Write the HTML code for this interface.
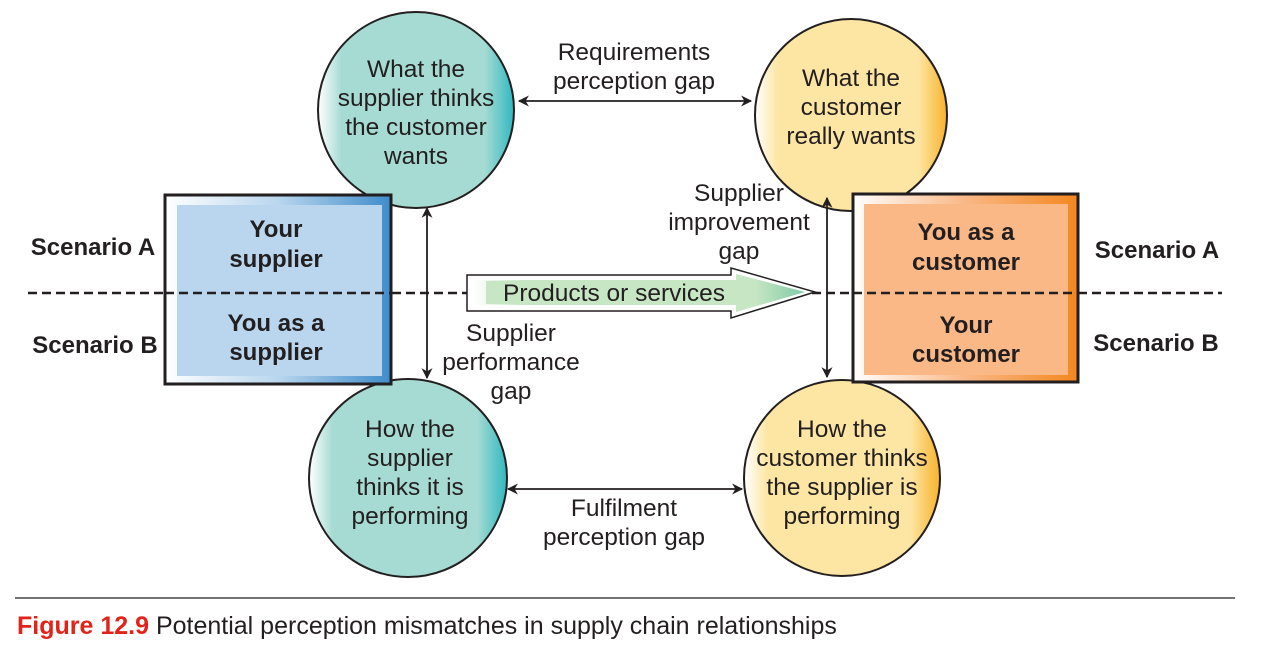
<!DOCTYPE html>
<html><head><meta charset="utf-8"><style>
html,body{margin:0;padding:0;background:#fff;}
svg{display:block;}
text{font-family:"Liberation Sans",sans-serif;fill:#231f20;}
</style></head><body>
<svg width="1273" height="656" viewBox="0 0 1273 656" xmlns="http://www.w3.org/2000/svg">
<defs>
<linearGradient id="teal" x1="0" x2="1" y1="0" y2="0">
<stop offset="0" stop-color="#ffffff"/><stop offset="0.12" stop-color="#a6dbd3"/><stop offset="0.85" stop-color="#a6dbd3"/><stop offset="1" stop-color="#2fb8c0"/></linearGradient>
<linearGradient id="yel" x1="0" x2="1" y1="0" y2="0">
<stop offset="0" stop-color="#ffffff"/><stop offset="0.12" stop-color="#fde6a3"/><stop offset="0.85" stop-color="#fde6a3"/><stop offset="1" stop-color="#f8b22a"/></linearGradient>
<linearGradient id="blue" x1="0" x2="1"><stop offset="0" stop-color="#fff"/><stop offset="0.5" stop-color="#b9d6ee"/><stop offset="1" stop-color="#3f8ccb"/></linearGradient>
<linearGradient id="orng" x1="0" x2="1"><stop offset="0" stop-color="#fff"/><stop offset="0.5" stop-color="#f9b886"/><stop offset="1" stop-color="#f4871f"/></linearGradient>
<linearGradient id="grn" x1="0" x2="1"><stop offset="0" stop-color="#fff"/><stop offset="0.15" stop-color="#c7e6c4"/><stop offset="0.85" stop-color="#c7e6c4"/><stop offset="1" stop-color="#7fcaa6"/></linearGradient>
<marker id="ah" viewBox="0 0 10 10" refX="9" refY="5" markerWidth="13" markerHeight="11" orient="auto-start-reverse" markerUnits="userSpaceOnUse"><path d="M0,0 L10,5 L0,10 L3,5 Z" fill="#231f20"/></marker>
</defs>

<line x1="28" y1="293" x2="1222" y2="293" stroke="#231f20" stroke-width="2.5" stroke-dasharray="9,5"/>

<circle cx="416" cy="110" r="98" fill="url(#teal)" stroke="#231f20" stroke-width="2"/>
<circle cx="851" cy="115" r="96" fill="url(#yel)" stroke="#231f20" stroke-width="2"/>
<circle cx="408" cy="478" r="99" fill="url(#teal)" stroke="#231f20" stroke-width="2"/>
<circle cx="842" cy="478" r="98" fill="url(#yel)" stroke="#231f20" stroke-width="2"/>

<rect x="165" y="195" width="226" height="189" fill="url(#blue)" stroke="#231f20" stroke-width="3"/>
<rect x="177" y="205" width="205" height="171" fill="#b9d6ee"/>
<line x1="165" y1="293" x2="391" y2="293" stroke="#231f20" stroke-width="2.5" stroke-dasharray="9,5"/>
<rect x="853" y="194" width="225" height="188" fill="url(#orng)" stroke="#231f20" stroke-width="3"/>
<rect x="864" y="204" width="204" height="171" fill="#f9b886"/>
<line x1="853" y1="293" x2="1078" y2="293" stroke="#231f20" stroke-width="2.5" stroke-dasharray="9,5"/>

<path d="M467,275 L731,275 L731,268 L815,292 L731,318 L731,311 L467,311 Z" fill="#fff" stroke="#231f20" stroke-width="1.5"/>
<path d="M474,280 L736,280 L736,274 L805,292 L736,312 L736,305 L474,305 Z" fill="url(#grn)"/>
<rect x="486" y="281" width="250" height="23" fill="#c7e6c4"/>

<line x1="519" y1="101" x2="751" y2="101" stroke="#231f20" stroke-width="1.8" marker-start="url(#ah)" marker-end="url(#ah)"/>
<line x1="508" y1="489" x2="742" y2="489" stroke="#231f20" stroke-width="1.8" marker-start="url(#ah)" marker-end="url(#ah)"/>
<line x1="427" y1="208" x2="427" y2="378" stroke="#231f20" stroke-width="1.8" marker-start="url(#ah)" marker-end="url(#ah)"/>
<line x1="827" y1="198" x2="827" y2="377" stroke="#231f20" stroke-width="1.8" marker-start="url(#ah)" marker-end="url(#ah)"/>

<g font-size="24.5" text-anchor="middle">
<text x="416" y="77">What the</text><text x="416" y="106">supplier thinks</text><text x="416" y="135">the customer</text><text x="416" y="164">wants</text>
<text x="851" y="86">What the</text><text x="851" y="115">customer</text><text x="851" y="144">really wants</text>
<text x="410" y="437">How the</text><text x="410" y="466">supplier</text><text x="410" y="495">thinks it is</text><text x="410" y="524">performing</text>
<text x="842" y="437">How the</text><text x="842" y="466">customer thinks</text><text x="842" y="495">the supplier is</text><text x="842" y="524">performing</text>
<text x="634" y="60">Requirements</text><text x="634" y="89">perception gap</text>
<text x="624" y="516">Fulfilment</text><text x="624" y="545">perception gap</text>
<text x="739" y="201">Supplier</text><text x="739" y="230">improvement</text><text x="739" y="259">gap</text>
<text x="511" y="341">Supplier</text><text x="511" y="370">performance</text><text x="511" y="399">gap</text>
<text x="614" y="301">Products or services</text>
</g>
<g font-size="24" font-weight="bold" text-anchor="middle">
<text x="276" y="237">Your</text><text x="276" y="267">supplier</text>
<text x="276" y="331">You as a</text><text x="276" y="360">supplier</text>
<text x="966" y="240">You as a</text><text x="966" y="270">customer</text>
<text x="966" y="333">Your</text><text x="966" y="362">customer</text>
<text x="93" y="255">Scenario A</text><text x="95" y="353">Scenario B</text>
<text x="1157" y="258">Scenario A</text><text x="1156" y="351">Scenario B</text>
</g>

<line x1="15" y1="598" x2="1235" y2="598" stroke="#231f20" stroke-width="1.2"/>
<text x="17" y="634" font-size="25"><tspan font-weight="bold" style="fill:#e2231a">Figure 12.9</tspan> Potential perception mismatches in supply chain relationships</text>
</svg>
</body></html>
